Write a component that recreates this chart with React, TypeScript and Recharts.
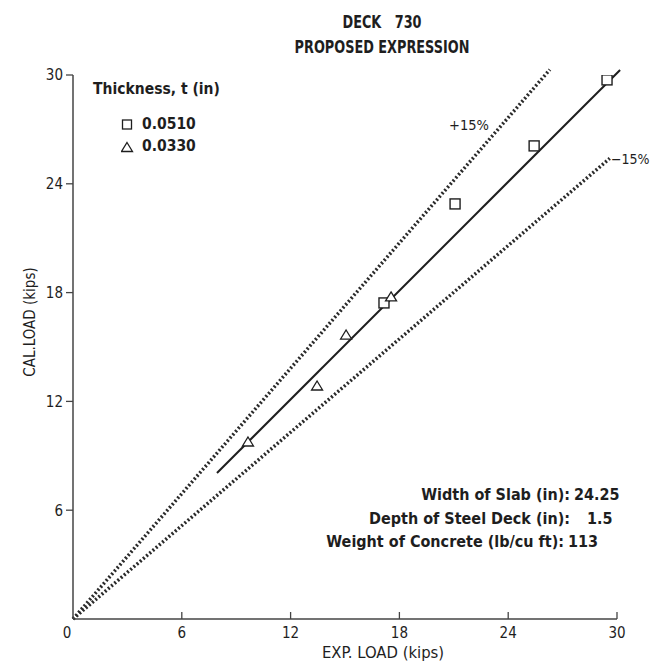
import React from 'react';
import {
  ScatterChart,
  Scatter,
  XAxis,
  YAxis,
  ReferenceLine,
} from 'recharts';

// thickness 0.0510 in (squares)
const SQUARE_EXP = [17.15, 21.07, 25.43, 29.45];
const SQUARE_CAL = [17.43, 22.89, 26.09, 29.73];
// thickness 0.0330 in (triangles)
const TRI_EXP = [9.65, 13.46, 15.06, 17.54];
const TRI_CAL = [9.76, 12.85, 15.66, 17.76];

const X_TICKS = [0, 6, 12, 18, 24, 30];
const Y_TICKS = [6, 12, 18, 24, 30];

// fitted line and +/-15% bounds (end points)
const FIT_LINE = [{ x: 7.94, y: 8.05 }, { x: 30.17, y: 30.28 }];
const UPPER_LINE = [{ x: 0, y: 0 }, { x: 26.3, y: 30.3 }];
const LOWER_LINE = [{ x: 0, y: 0 }, { x: 29.6, y: 25.4 }];

const INFO_LABELS = ['Width of Slab (in):', 'Depth of Steel Deck (in):', 'Weight of Concrete (lb/cu ft):'];
const INFO_VALUES = ['24.25', '1.5', '113'];

const squareData = SQUARE_EXP.map((x, i) => ({ x, y: SQUARE_CAL[i] }));
const triData = TRI_EXP.map((x, i) => ({ x, y: TRI_CAL[i] }));

const INK = '#1e1e1e';
const FONT = '"DejaVu Sans Condensed", "DejaVu Sans", sans-serif';

const SquareShape = (props: any) => {
  const { cx, cy } = props;
  return <rect x={cx - 5} y={cy - 5} width={10} height={10} fill="#fff" stroke={INK} strokeWidth={1.4} />;
};

const TriangleShape = (props: any) => {
  const { cx, cy } = props;
  return (
    <polygon
      points={`${cx},${cy - 5} ${cx + 5.5},${cy + 4} ${cx - 5.5},${cy + 4}`}
      fill="#fff"
      stroke={INK}
      strokeWidth={1.3}
    />
  );
};

const XTick = ({ x, y, payload }: any) => (
  <g>
    {payload.value !== 0 && (
      <line x1={x} x2={x} y1={y} y2={y - 7} stroke="#444" strokeWidth={1.3} />
    )}
    <text
      x={payload.value === 0 ? x - 6 : x}
      y={y + 19}
      textAnchor="middle"
      fontFamily={FONT}
      fontSize={15}
      fill={INK}
    >
      {payload.value}
    </text>
  </g>
);

const textStyle: React.CSSProperties = {
  position: 'absolute',
  fontFamily: FONT,
  color: INK,
  whiteSpace: 'nowrap',
  lineHeight: 1,
};

// per-row anchor: right edge of label, left edge of value, text centre y
const INFO_LABEL_RIGHT = [570, 570, 564];
const INFO_VALUE_LEFT = [574, 587, 568];
const INFO_Y = [495, 518.5, 542];

export default function App() {
  return (
    <div style={{ position: 'absolute', left: 0, top: 0, width: 654, height: 666, background: '#fff' }}>
      <ScatterChart width={654} height={666} margin={{ top: 75, right: 37, bottom: 17, left: 33 }}>
        <XAxis
          type="number"
          dataKey="x"
          domain={[0, 30]}
          ticks={X_TICKS}
          height={30}
          allowDataOverflow
          axisLine={{ stroke: '#444', strokeWidth: 1.5 }}
          tickLine={false}
          tickSize={0}
          tickMargin={0}
          tick={<XTick />}
        />
        <YAxis
          type="number"
          dataKey="y"
          domain={[0, 30]}
          ticks={Y_TICKS}
          width={40}
          allowDataOverflow
          axisLine={{ stroke: '#444', strokeWidth: 1.5 }}
          tickLine={{ stroke: '#444', strokeWidth: 1.3 }}
          tickSize={7}
          tickMargin={3}
          tick={{ fontFamily: FONT, fontSize: 15, fill: INK }}
        />
        <ReferenceLine
          segment={UPPER_LINE}
          ifOverflow="visible"
          stroke="#2a2a2a"
          strokeWidth={3.5}
          strokeDasharray="2 2.2"
        />
        <ReferenceLine
          segment={LOWER_LINE}
          ifOverflow="visible"
          stroke="#2a2a2a"
          strokeWidth={3.5}
          strokeDasharray="2 2.2"
        />
        <ReferenceLine segment={FIT_LINE} ifOverflow="visible" stroke={INK} strokeWidth={2} />
        <Scatter data={squareData} shape={<SquareShape />} isAnimationActive={false} />
        <Scatter data={triData} shape={<TriangleShape />} isAnimationActive={false} />
      </ScatterChart>

      {/* title */}
      <div style={{ ...textStyle, left: 382, top: 22, transform: 'translate(-50%, -50%) scaleX(0.84)', fontWeight: 'bold', fontSize: 17 }}>
        DECK&nbsp;&nbsp;&nbsp;730
      </div>
      <div style={{ ...textStyle, left: 382, top: 47, transform: 'translate(-50%, -50%) scaleX(0.84)', fontWeight: 'bold', fontSize: 17 }}>
        PROPOSED EXPRESSION
      </div>

      {/* legend */}
      <div style={{ ...textStyle, left: 93, top: 90, transform: 'translateY(-50%)', fontWeight: 'bold', fontSize: 15.5 }}>
        Thickness, t (in)
      </div>
      <svg style={{ position: 'absolute', left: 121, top: 118 }} width={14} height={40}>
        <rect x={1.5} y={2} width={9} height={9} fill="#fff" stroke={INK} strokeWidth={1.3} />
        <polygon points="6,24.5 11.5,33.5 0.5,33.5" fill="#fff" stroke={INK} strokeWidth={1.3} />
      </svg>
      <div style={{ ...textStyle, left: 142, top: 125, transform: 'translateY(-50%)', fontWeight: 'bold', fontSize: 15.5 }}>0.0510</div>
      <div style={{ ...textStyle, left: 142, top: 147, transform: 'translateY(-50%)', fontWeight: 'bold', fontSize: 15.5 }}>0.0330</div>

      {/* bound labels */}
      <div style={{ ...textStyle, left: 449, top: 118, fontSize: 14.5 }}>+15%</div>
      <div style={{ ...textStyle, left: 611, top: 152, fontSize: 14 }}>−15%</div>

      {/* specimen info */}
      {INFO_LABELS.map((label, i) => (
        <React.Fragment key={i}>
          <div
            style={{
              ...textStyle,
              right: 654 - INFO_LABEL_RIGHT[i],
              top: INFO_Y[i],
              transform: 'translateY(-50%)',
              fontWeight: 'bold',
              fontSize: 16,
            }}
          >
            {label}
          </div>
          <div
            style={{
              ...textStyle,
              left: INFO_VALUE_LEFT[i],
              top: INFO_Y[i],
              transform: 'translateY(-50%)',
              fontWeight: 'bold',
              fontSize: 16,
            }}
          >
            {INFO_VALUES[i]}
          </div>
        </React.Fragment>
      ))}

      {/* axis titles */}
      <div style={{ ...textStyle, left: 383, top: 653, transform: 'translate(-50%, -50%)', fontSize: 16.5 }}>
        EXP. LOAD (kips)
      </div>
      <div
        style={{
          ...textStyle,
          left: 30,
          top: 322,
          transform: 'translate(-50%, -50%) rotate(-90deg)',
          fontSize: 15,
        }}
      >
        CAL.LOAD (kips)
      </div>
    </div>
  );
}
